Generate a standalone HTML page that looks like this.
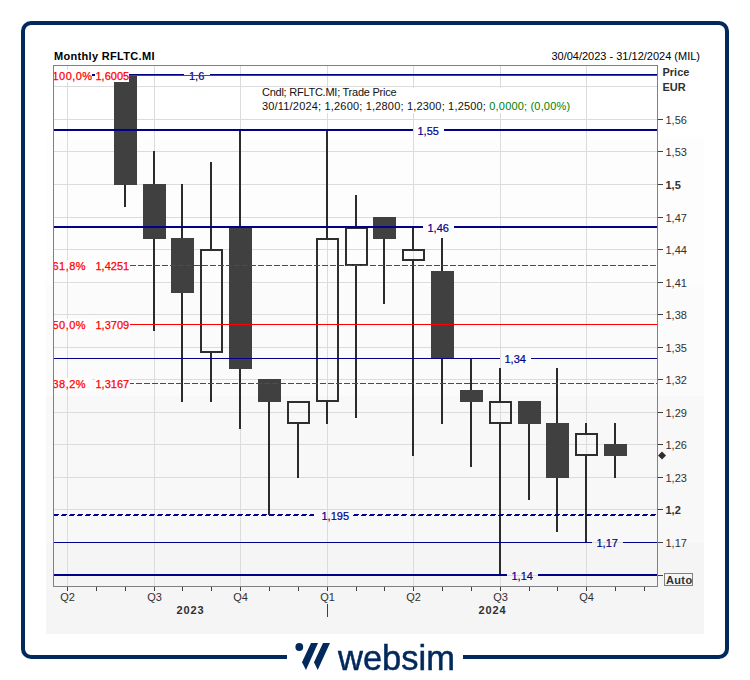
<!DOCTYPE html>
<html><head><meta charset="utf-8"><title>Monthly RFLTC.MI</title>
<style>
html,body{margin:0;padding:0;background:#fff;}
body{width:750px;height:680px;position:relative;overflow:hidden;font-family:"Liberation Sans",sans-serif;}
#frame{position:absolute;left:21px;top:21px;width:708px;height:638px;box-sizing:border-box;border:4px solid #01295c;border-radius:10px;background:#fff;}
#chartbg{position:absolute;left:46px;top:44px;width:658px;height:590px;background:linear-gradient(to bottom,#ffffff 0,#ffffff 93px,#fdfdfd 93px,#fdfdfd 241px,#fbfbfb 241px,#fbfbfb 352px,#f8f8f8 352px,#f8f8f8 499px,#f5f5f5 499px,#f5f5f5 590px);}
#logomask{position:absolute;left:286.5px;top:640px;width:176.7px;height:40px;background:#fff;}
svg{position:absolute;left:0;top:0;}
text{font-family:"Liberation Sans",sans-serif;font-size:11px;}
.b{font-weight:bold;}
#word{position:absolute;left:338.3px;top:638px;font-size:34.5px;line-height:40px;color:#01295c;letter-spacing:0px;white-space:nowrap;-webkit-text-stroke:0.5px #01295c;will-change:transform;}
</style></head><body>
<div id="frame"></div>
<div id="chartbg"></div>
<div id="logomask"></div>
<svg width="750" height="680" viewBox="0 0 750 680">
<defs><clipPath id="pc"><rect x="54" y="66" width="603" height="520"/></clipPath></defs>
<g shape-rendering="crispEdges">
<rect x="54" y="575" width="603" height="1" fill="#dcdcdc"/>
<rect x="54" y="542" width="603" height="1" fill="#dcdcdc"/>
<rect x="54" y="509" width="603" height="1" fill="#dcdcdc"/>
<rect x="54" y="477" width="603" height="1" fill="#dcdcdc"/>
<rect x="54" y="444" width="603" height="1" fill="#dcdcdc"/>
<rect x="54" y="412" width="603" height="1" fill="#dcdcdc"/>
<rect x="54" y="379" width="603" height="1" fill="#dcdcdc"/>
<rect x="54" y="347" width="603" height="1" fill="#dcdcdc"/>
<rect x="54" y="314" width="603" height="1" fill="#dcdcdc"/>
<rect x="54" y="282" width="603" height="1" fill="#dcdcdc"/>
<rect x="54" y="249" width="603" height="1" fill="#dcdcdc"/>
<rect x="54" y="217" width="603" height="1" fill="#dcdcdc"/>
<rect x="54" y="184" width="603" height="1" fill="#dcdcdc"/>
<rect x="54" y="151" width="603" height="1" fill="#dcdcdc"/>
<rect x="54" y="119" width="603" height="1" fill="#dcdcdc"/>
<rect x="54" y="86" width="603" height="1" fill="#dcdcdc"/>
<rect x="67" y="66" width="1" height="520" fill="#dcdcdc"/>
<rect x="154" y="66" width="1" height="520" fill="#dcdcdc"/>
<rect x="240" y="66" width="1" height="520" fill="#dcdcdc"/>
<rect x="327" y="66" width="1" height="520" fill="#dcdcdc"/>
<rect x="413" y="66" width="1" height="520" fill="#dcdcdc"/>
<rect x="500" y="66" width="1" height="520" fill="#dcdcdc"/>
<rect x="586" y="66" width="1" height="520" fill="#dcdcdc"/>
<rect x="124" y="185" width="2" height="22" fill="#2b2b2b"/>
<rect x="114" y="75" width="23" height="110" fill="#404040"/>
<rect x="153" y="151" width="2" height="33" fill="#2b2b2b"/>
<rect x="153" y="239" width="2" height="92" fill="#2b2b2b"/>
<rect x="143" y="184" width="23" height="55" fill="#404040"/>
<rect x="181" y="184" width="2" height="54" fill="#2b2b2b"/>
<rect x="181" y="293" width="2" height="109" fill="#2b2b2b"/>
<rect x="171" y="238" width="23" height="55" fill="#404040"/>
<rect x="210" y="162" width="2" height="87" fill="#2b2b2b"/>
<rect x="210" y="353" width="2" height="49" fill="#2b2b2b"/>
<rect x="201" y="250" width="21" height="102" fill="none" stroke="#2e2e2e" stroke-width="2"/>
<rect x="239" y="130" width="2" height="97" fill="#2b2b2b"/>
<rect x="239" y="369" width="2" height="60" fill="#2b2b2b"/>
<rect x="229" y="227" width="23" height="142" fill="#404040"/>
<rect x="268" y="402" width="2" height="113" fill="#2b2b2b"/>
<rect x="258" y="379" width="23" height="23" fill="#404040"/>
<rect x="297" y="424" width="2" height="54" fill="#2b2b2b"/>
<rect x="288" y="402" width="21" height="21" fill="none" stroke="#2e2e2e" stroke-width="2"/>
<rect x="326" y="130" width="2" height="108" fill="#2b2b2b"/>
<rect x="326" y="402" width="2" height="22" fill="#2b2b2b"/>
<rect x="317" y="239" width="21" height="162" fill="none" stroke="#2e2e2e" stroke-width="2"/>
<rect x="355" y="195" width="2" height="32" fill="#2b2b2b"/>
<rect x="355" y="266" width="2" height="152" fill="#2b2b2b"/>
<rect x="346" y="228" width="21" height="37" fill="none" stroke="#2e2e2e" stroke-width="2"/>
<rect x="383" y="239" width="2" height="65" fill="#2b2b2b"/>
<rect x="373" y="217" width="23" height="22" fill="#404040"/>
<rect x="412" y="227" width="2" height="22" fill="#2b2b2b"/>
<rect x="412" y="261" width="2" height="195" fill="#2b2b2b"/>
<rect x="403" y="250" width="21" height="10" fill="none" stroke="#2e2e2e" stroke-width="2"/>
<rect x="441" y="238" width="2" height="33" fill="#2b2b2b"/>
<rect x="441" y="358" width="2" height="66" fill="#2b2b2b"/>
<rect x="431" y="271" width="23" height="87" fill="#404040"/>
<rect x="470" y="358" width="2" height="32" fill="#2b2b2b"/>
<rect x="470" y="402" width="2" height="65" fill="#2b2b2b"/>
<rect x="460" y="390" width="23" height="12" fill="#404040"/>
<rect x="499" y="368" width="2" height="33" fill="#2b2b2b"/>
<rect x="499" y="424" width="2" height="151" fill="#2b2b2b"/>
<rect x="490" y="402" width="21" height="21" fill="none" stroke="#2e2e2e" stroke-width="2"/>
<rect x="528" y="424" width="2" height="76" fill="#2b2b2b"/>
<rect x="518" y="401" width="23" height="23" fill="#404040"/>
<rect x="556" y="368" width="2" height="55" fill="#2b2b2b"/>
<rect x="556" y="478" width="2" height="54" fill="#2b2b2b"/>
<rect x="546" y="423" width="23" height="55" fill="#404040"/>
<rect x="585" y="423" width="2" height="10" fill="#2b2b2b"/>
<rect x="585" y="456" width="2" height="86" fill="#2b2b2b"/>
<rect x="576" y="434" width="21" height="21" fill="none" stroke="#2e2e2e" stroke-width="2"/>
<rect x="614" y="423" width="2" height="21" fill="#2b2b2b"/>
<rect x="614" y="456" width="2" height="22" fill="#2b2b2b"/>
<rect x="604" y="444" width="23" height="12" fill="#404040"/>
<rect x="54" y="74" width="130" height="2" fill="#00008b"/>
<rect x="210" y="74" width="447" height="2" fill="#00008b"/>
<rect x="54" y="129" width="359" height="2" fill="#00008b"/>
<rect x="444" y="129" width="213" height="2" fill="#00008b"/>
<rect x="54" y="226" width="369" height="2" fill="#00008b"/>
<rect x="454" y="226" width="203" height="2" fill="#00008b"/>
<rect x="54" y="358" width="446" height="1" fill="#00008b"/>
<rect x="531" y="358" width="126" height="1" fill="#00008b"/>
<rect x="54" y="514" width="5" height="1" fill="#00008b"/>
<rect x="54" y="515" width="4" height="1" fill="#00008b"/>
<rect x="62" y="514" width="5" height="1" fill="#00008b"/>
<rect x="61" y="515" width="5" height="1" fill="#00008b"/>
<rect x="70" y="514" width="5" height="1" fill="#00008b"/>
<rect x="69" y="515" width="5" height="1" fill="#00008b"/>
<rect x="78" y="514" width="5" height="1" fill="#00008b"/>
<rect x="77" y="515" width="5" height="1" fill="#00008b"/>
<rect x="86" y="514" width="5" height="1" fill="#00008b"/>
<rect x="85" y="515" width="5" height="1" fill="#00008b"/>
<rect x="94" y="514" width="5" height="1" fill="#00008b"/>
<rect x="93" y="515" width="5" height="1" fill="#00008b"/>
<rect x="102" y="514" width="5" height="1" fill="#00008b"/>
<rect x="101" y="515" width="5" height="1" fill="#00008b"/>
<rect x="110" y="514" width="5" height="1" fill="#00008b"/>
<rect x="109" y="515" width="5" height="1" fill="#00008b"/>
<rect x="118" y="514" width="5" height="1" fill="#00008b"/>
<rect x="117" y="515" width="5" height="1" fill="#00008b"/>
<rect x="126" y="514" width="5" height="1" fill="#00008b"/>
<rect x="125" y="515" width="5" height="1" fill="#00008b"/>
<rect x="134" y="514" width="5" height="1" fill="#00008b"/>
<rect x="133" y="515" width="5" height="1" fill="#00008b"/>
<rect x="142" y="514" width="5" height="1" fill="#00008b"/>
<rect x="141" y="515" width="5" height="1" fill="#00008b"/>
<rect x="150" y="514" width="5" height="1" fill="#00008b"/>
<rect x="149" y="515" width="5" height="1" fill="#00008b"/>
<rect x="158" y="514" width="5" height="1" fill="#00008b"/>
<rect x="157" y="515" width="5" height="1" fill="#00008b"/>
<rect x="166" y="514" width="5" height="1" fill="#00008b"/>
<rect x="165" y="515" width="5" height="1" fill="#00008b"/>
<rect x="174" y="514" width="5" height="1" fill="#00008b"/>
<rect x="173" y="515" width="5" height="1" fill="#00008b"/>
<rect x="182" y="514" width="5" height="1" fill="#00008b"/>
<rect x="181" y="515" width="5" height="1" fill="#00008b"/>
<rect x="190" y="514" width="5" height="1" fill="#00008b"/>
<rect x="189" y="515" width="5" height="1" fill="#00008b"/>
<rect x="198" y="514" width="5" height="1" fill="#00008b"/>
<rect x="197" y="515" width="5" height="1" fill="#00008b"/>
<rect x="206" y="514" width="5" height="1" fill="#00008b"/>
<rect x="205" y="515" width="5" height="1" fill="#00008b"/>
<rect x="214" y="514" width="5" height="1" fill="#00008b"/>
<rect x="213" y="515" width="5" height="1" fill="#00008b"/>
<rect x="222" y="514" width="5" height="1" fill="#00008b"/>
<rect x="221" y="515" width="5" height="1" fill="#00008b"/>
<rect x="230" y="514" width="5" height="1" fill="#00008b"/>
<rect x="229" y="515" width="5" height="1" fill="#00008b"/>
<rect x="238" y="514" width="5" height="1" fill="#00008b"/>
<rect x="237" y="515" width="5" height="1" fill="#00008b"/>
<rect x="246" y="514" width="5" height="1" fill="#00008b"/>
<rect x="245" y="515" width="5" height="1" fill="#00008b"/>
<rect x="254" y="514" width="5" height="1" fill="#00008b"/>
<rect x="253" y="515" width="5" height="1" fill="#00008b"/>
<rect x="262" y="514" width="5" height="1" fill="#00008b"/>
<rect x="261" y="515" width="5" height="1" fill="#00008b"/>
<rect x="270" y="514" width="5" height="1" fill="#00008b"/>
<rect x="269" y="515" width="5" height="1" fill="#00008b"/>
<rect x="278" y="514" width="5" height="1" fill="#00008b"/>
<rect x="277" y="515" width="5" height="1" fill="#00008b"/>
<rect x="286" y="514" width="5" height="1" fill="#00008b"/>
<rect x="285" y="515" width="5" height="1" fill="#00008b"/>
<rect x="294" y="514" width="5" height="1" fill="#00008b"/>
<rect x="293" y="515" width="5" height="1" fill="#00008b"/>
<rect x="302" y="514" width="5" height="1" fill="#00008b"/>
<rect x="301" y="515" width="5" height="1" fill="#00008b"/>
<rect x="310" y="514" width="4" height="1" fill="#00008b"/>
<rect x="309" y="515" width="5" height="1" fill="#00008b"/>
<rect x="354" y="514" width="5" height="1" fill="#00008b"/>
<rect x="353" y="515" width="5" height="1" fill="#00008b"/>
<rect x="362" y="514" width="5" height="1" fill="#00008b"/>
<rect x="361" y="515" width="5" height="1" fill="#00008b"/>
<rect x="370" y="514" width="5" height="1" fill="#00008b"/>
<rect x="369" y="515" width="5" height="1" fill="#00008b"/>
<rect x="378" y="514" width="5" height="1" fill="#00008b"/>
<rect x="377" y="515" width="5" height="1" fill="#00008b"/>
<rect x="386" y="514" width="5" height="1" fill="#00008b"/>
<rect x="385" y="515" width="5" height="1" fill="#00008b"/>
<rect x="394" y="514" width="5" height="1" fill="#00008b"/>
<rect x="393" y="515" width="5" height="1" fill="#00008b"/>
<rect x="402" y="514" width="5" height="1" fill="#00008b"/>
<rect x="401" y="515" width="5" height="1" fill="#00008b"/>
<rect x="411" y="514" width="5" height="1" fill="#00008b"/>
<rect x="410" y="515" width="5" height="1" fill="#00008b"/>
<rect x="419" y="514" width="5" height="1" fill="#00008b"/>
<rect x="418" y="515" width="5" height="1" fill="#00008b"/>
<rect x="427" y="514" width="5" height="1" fill="#00008b"/>
<rect x="426" y="515" width="5" height="1" fill="#00008b"/>
<rect x="435" y="514" width="5" height="1" fill="#00008b"/>
<rect x="434" y="515" width="5" height="1" fill="#00008b"/>
<rect x="443" y="514" width="5" height="1" fill="#00008b"/>
<rect x="442" y="515" width="5" height="1" fill="#00008b"/>
<rect x="451" y="514" width="5" height="1" fill="#00008b"/>
<rect x="450" y="515" width="5" height="1" fill="#00008b"/>
<rect x="459" y="514" width="5" height="1" fill="#00008b"/>
<rect x="458" y="515" width="5" height="1" fill="#00008b"/>
<rect x="467" y="514" width="5" height="1" fill="#00008b"/>
<rect x="466" y="515" width="5" height="1" fill="#00008b"/>
<rect x="475" y="514" width="5" height="1" fill="#00008b"/>
<rect x="474" y="515" width="5" height="1" fill="#00008b"/>
<rect x="483" y="514" width="5" height="1" fill="#00008b"/>
<rect x="482" y="515" width="5" height="1" fill="#00008b"/>
<rect x="491" y="514" width="5" height="1" fill="#00008b"/>
<rect x="490" y="515" width="5" height="1" fill="#00008b"/>
<rect x="499" y="514" width="5" height="1" fill="#00008b"/>
<rect x="498" y="515" width="5" height="1" fill="#00008b"/>
<rect x="507" y="514" width="5" height="1" fill="#00008b"/>
<rect x="506" y="515" width="5" height="1" fill="#00008b"/>
<rect x="515" y="514" width="5" height="1" fill="#00008b"/>
<rect x="514" y="515" width="5" height="1" fill="#00008b"/>
<rect x="523" y="514" width="5" height="1" fill="#00008b"/>
<rect x="522" y="515" width="5" height="1" fill="#00008b"/>
<rect x="531" y="514" width="5" height="1" fill="#00008b"/>
<rect x="530" y="515" width="5" height="1" fill="#00008b"/>
<rect x="539" y="514" width="5" height="1" fill="#00008b"/>
<rect x="538" y="515" width="5" height="1" fill="#00008b"/>
<rect x="547" y="514" width="5" height="1" fill="#00008b"/>
<rect x="546" y="515" width="5" height="1" fill="#00008b"/>
<rect x="555" y="514" width="5" height="1" fill="#00008b"/>
<rect x="554" y="515" width="5" height="1" fill="#00008b"/>
<rect x="563" y="514" width="5" height="1" fill="#00008b"/>
<rect x="562" y="515" width="5" height="1" fill="#00008b"/>
<rect x="571" y="514" width="5" height="1" fill="#00008b"/>
<rect x="570" y="515" width="5" height="1" fill="#00008b"/>
<rect x="579" y="514" width="5" height="1" fill="#00008b"/>
<rect x="578" y="515" width="5" height="1" fill="#00008b"/>
<rect x="587" y="514" width="5" height="1" fill="#00008b"/>
<rect x="586" y="515" width="5" height="1" fill="#00008b"/>
<rect x="595" y="514" width="5" height="1" fill="#00008b"/>
<rect x="594" y="515" width="5" height="1" fill="#00008b"/>
<rect x="603" y="514" width="5" height="1" fill="#00008b"/>
<rect x="602" y="515" width="5" height="1" fill="#00008b"/>
<rect x="611" y="514" width="5" height="1" fill="#00008b"/>
<rect x="610" y="515" width="5" height="1" fill="#00008b"/>
<rect x="619" y="514" width="5" height="1" fill="#00008b"/>
<rect x="618" y="515" width="5" height="1" fill="#00008b"/>
<rect x="627" y="514" width="5" height="1" fill="#00008b"/>
<rect x="626" y="515" width="5" height="1" fill="#00008b"/>
<rect x="635" y="514" width="5" height="1" fill="#00008b"/>
<rect x="634" y="515" width="5" height="1" fill="#00008b"/>
<rect x="643" y="514" width="5" height="1" fill="#00008b"/>
<rect x="642" y="515" width="5" height="1" fill="#00008b"/>
<rect x="651" y="514" width="5" height="1" fill="#00008b"/>
<rect x="650" y="515" width="5" height="1" fill="#00008b"/>
<rect x="54" y="542" width="538" height="1" fill="#00008b"/>
<rect x="623" y="542" width="34" height="1" fill="#00008b"/>
<rect x="54" y="574" width="453" height="2" fill="#00008b"/>
<rect x="538" y="574" width="119" height="2" fill="#00008b"/>
<rect x="128" y="75" width="529" height="1" fill="#ff0000"/>
<rect x="130" y="324" width="527" height="1" fill="#ff0000"/>
<rect x="130" y="265" width="6" height="1" fill="#ff0000"/>
<rect x="138" y="265" width="6" height="1" fill="#ff0000"/>
<rect x="146" y="265" width="6" height="1" fill="#ff0000"/>
<rect x="154" y="265" width="6" height="1" fill="#ff0000"/>
<rect x="162" y="265" width="6" height="1" fill="#ff0000"/>
<rect x="170" y="265" width="6" height="1" fill="#ff0000"/>
<rect x="178" y="265" width="6" height="1" fill="#ff0000"/>
<rect x="186" y="265" width="6" height="1" fill="#ff0000"/>
<rect x="194" y="265" width="6" height="1" fill="#ff0000"/>
<rect x="202" y="265" width="6" height="1" fill="#ff0000"/>
<rect x="210" y="265" width="6" height="1" fill="#ff0000"/>
<rect x="218" y="265" width="6" height="1" fill="#ff0000"/>
<rect x="226" y="265" width="6" height="1" fill="#ff0000"/>
<rect x="234" y="265" width="6" height="1" fill="#ff0000"/>
<rect x="242" y="265" width="6" height="1" fill="#ff0000"/>
<rect x="250" y="265" width="6" height="1" fill="#ff0000"/>
<rect x="258" y="265" width="6" height="1" fill="#ff0000"/>
<rect x="266" y="265" width="6" height="1" fill="#ff0000"/>
<rect x="274" y="265" width="6" height="1" fill="#ff0000"/>
<rect x="282" y="265" width="6" height="1" fill="#ff0000"/>
<rect x="290" y="265" width="6" height="1" fill="#ff0000"/>
<rect x="298" y="265" width="6" height="1" fill="#ff0000"/>
<rect x="306" y="265" width="6" height="1" fill="#ff0000"/>
<rect x="314" y="265" width="6" height="1" fill="#ff0000"/>
<rect x="322" y="265" width="6" height="1" fill="#ff0000"/>
<rect x="330" y="265" width="6" height="1" fill="#ff0000"/>
<rect x="338" y="265" width="6" height="1" fill="#ff0000"/>
<rect x="346" y="265" width="6" height="1" fill="#ff0000"/>
<rect x="354" y="265" width="6" height="1" fill="#ff0000"/>
<rect x="362" y="265" width="6" height="1" fill="#ff0000"/>
<rect x="370" y="265" width="6" height="1" fill="#ff0000"/>
<rect x="378" y="265" width="6" height="1" fill="#ff0000"/>
<rect x="386" y="265" width="6" height="1" fill="#ff0000"/>
<rect x="394" y="265" width="6" height="1" fill="#ff0000"/>
<rect x="402" y="265" width="6" height="1" fill="#ff0000"/>
<rect x="410" y="265" width="6" height="1" fill="#ff0000"/>
<rect x="418" y="265" width="6" height="1" fill="#ff0000"/>
<rect x="426" y="265" width="6" height="1" fill="#ff0000"/>
<rect x="434" y="265" width="6" height="1" fill="#ff0000"/>
<rect x="442" y="265" width="6" height="1" fill="#ff0000"/>
<rect x="450" y="265" width="6" height="1" fill="#ff0000"/>
<rect x="458" y="265" width="6" height="1" fill="#ff0000"/>
<rect x="466" y="265" width="6" height="1" fill="#ff0000"/>
<rect x="474" y="265" width="6" height="1" fill="#ff0000"/>
<rect x="482" y="265" width="6" height="1" fill="#ff0000"/>
<rect x="490" y="265" width="6" height="1" fill="#ff0000"/>
<rect x="498" y="265" width="6" height="1" fill="#ff0000"/>
<rect x="506" y="265" width="6" height="1" fill="#ff0000"/>
<rect x="514" y="265" width="6" height="1" fill="#ff0000"/>
<rect x="522" y="265" width="6" height="1" fill="#ff0000"/>
<rect x="530" y="265" width="6" height="1" fill="#ff0000"/>
<rect x="538" y="265" width="6" height="1" fill="#ff0000"/>
<rect x="546" y="265" width="6" height="1" fill="#ff0000"/>
<rect x="554" y="265" width="6" height="1" fill="#ff0000"/>
<rect x="562" y="265" width="6" height="1" fill="#ff0000"/>
<rect x="570" y="265" width="6" height="1" fill="#ff0000"/>
<rect x="578" y="265" width="6" height="1" fill="#ff0000"/>
<rect x="586" y="265" width="6" height="1" fill="#ff0000"/>
<rect x="594" y="265" width="6" height="1" fill="#ff0000"/>
<rect x="602" y="265" width="6" height="1" fill="#ff0000"/>
<rect x="610" y="265" width="6" height="1" fill="#ff0000"/>
<rect x="618" y="265" width="6" height="1" fill="#ff0000"/>
<rect x="626" y="265" width="6" height="1" fill="#ff0000"/>
<rect x="634" y="265" width="6" height="1" fill="#ff0000"/>
<rect x="642" y="265" width="6" height="1" fill="#ff0000"/>
<rect x="650" y="265" width="6" height="1" fill="#ff0000"/>
<rect x="130" y="383" width="4" height="1" fill="#ff0000"/>
<rect x="136" y="383" width="6" height="1" fill="#ff0000"/>
<rect x="144" y="383" width="6" height="1" fill="#ff0000"/>
<rect x="152" y="383" width="6" height="1" fill="#ff0000"/>
<rect x="160" y="383" width="6" height="1" fill="#ff0000"/>
<rect x="168" y="383" width="6" height="1" fill="#ff0000"/>
<rect x="176" y="383" width="6" height="1" fill="#ff0000"/>
<rect x="184" y="383" width="6" height="1" fill="#ff0000"/>
<rect x="192" y="383" width="6" height="1" fill="#ff0000"/>
<rect x="200" y="383" width="6" height="1" fill="#ff0000"/>
<rect x="208" y="383" width="6" height="1" fill="#ff0000"/>
<rect x="216" y="383" width="6" height="1" fill="#ff0000"/>
<rect x="224" y="383" width="6" height="1" fill="#ff0000"/>
<rect x="232" y="383" width="6" height="1" fill="#ff0000"/>
<rect x="240" y="383" width="6" height="1" fill="#ff0000"/>
<rect x="248" y="383" width="6" height="1" fill="#ff0000"/>
<rect x="256" y="383" width="6" height="1" fill="#ff0000"/>
<rect x="264" y="383" width="6" height="1" fill="#ff0000"/>
<rect x="272" y="383" width="6" height="1" fill="#ff0000"/>
<rect x="280" y="383" width="6" height="1" fill="#ff0000"/>
<rect x="288" y="383" width="6" height="1" fill="#ff0000"/>
<rect x="296" y="383" width="6" height="1" fill="#ff0000"/>
<rect x="304" y="383" width="6" height="1" fill="#ff0000"/>
<rect x="312" y="383" width="6" height="1" fill="#ff0000"/>
<rect x="320" y="383" width="6" height="1" fill="#ff0000"/>
<rect x="328" y="383" width="6" height="1" fill="#ff0000"/>
<rect x="336" y="383" width="6" height="1" fill="#ff0000"/>
<rect x="344" y="383" width="6" height="1" fill="#ff0000"/>
<rect x="352" y="383" width="6" height="1" fill="#ff0000"/>
<rect x="360" y="383" width="6" height="1" fill="#ff0000"/>
<rect x="368" y="383" width="6" height="1" fill="#ff0000"/>
<rect x="376" y="383" width="6" height="1" fill="#ff0000"/>
<rect x="384" y="383" width="6" height="1" fill="#ff0000"/>
<rect x="392" y="383" width="6" height="1" fill="#ff0000"/>
<rect x="400" y="383" width="6" height="1" fill="#ff0000"/>
<rect x="408" y="383" width="6" height="1" fill="#ff0000"/>
<rect x="416" y="383" width="6" height="1" fill="#ff0000"/>
<rect x="424" y="383" width="6" height="1" fill="#ff0000"/>
<rect x="432" y="383" width="6" height="1" fill="#ff0000"/>
<rect x="440" y="383" width="6" height="1" fill="#ff0000"/>
<rect x="448" y="383" width="6" height="1" fill="#ff0000"/>
<rect x="456" y="383" width="6" height="1" fill="#ff0000"/>
<rect x="464" y="383" width="6" height="1" fill="#ff0000"/>
<rect x="472" y="383" width="6" height="1" fill="#ff0000"/>
<rect x="480" y="383" width="6" height="1" fill="#ff0000"/>
<rect x="488" y="383" width="6" height="1" fill="#ff0000"/>
<rect x="496" y="383" width="6" height="1" fill="#ff0000"/>
<rect x="504" y="383" width="6" height="1" fill="#ff0000"/>
<rect x="512" y="383" width="6" height="1" fill="#ff0000"/>
<rect x="520" y="383" width="6" height="1" fill="#ff0000"/>
<rect x="528" y="383" width="6" height="1" fill="#ff0000"/>
<rect x="536" y="383" width="6" height="1" fill="#ff0000"/>
<rect x="544" y="383" width="6" height="1" fill="#ff0000"/>
<rect x="552" y="383" width="6" height="1" fill="#ff0000"/>
<rect x="560" y="383" width="6" height="1" fill="#ff0000"/>
<rect x="568" y="383" width="6" height="1" fill="#ff0000"/>
<rect x="576" y="383" width="6" height="1" fill="#ff0000"/>
<rect x="584" y="383" width="6" height="1" fill="#ff0000"/>
<rect x="592" y="383" width="6" height="1" fill="#ff0000"/>
<rect x="600" y="383" width="6" height="1" fill="#ff0000"/>
<rect x="608" y="383" width="6" height="1" fill="#ff0000"/>
<rect x="616" y="383" width="6" height="1" fill="#ff0000"/>
<rect x="624" y="383" width="6" height="1" fill="#ff0000"/>
<rect x="632" y="383" width="6" height="1" fill="#ff0000"/>
<rect x="640" y="383" width="6" height="1" fill="#ff0000"/>
<rect x="648" y="383" width="6" height="1" fill="#ff0000"/>
<rect x="656" y="383" width="1" height="1" fill="#ff0000"/>
</g>
<rect x="53.5" y="65.5" width="604" height="521" fill="none" stroke="#808080" stroke-width="1" shape-rendering="crispEdges"/>
<g shape-rendering="crispEdges">
<rect x="658" y="575" width="5" height="1" fill="#404040"/>
<rect x="658" y="542" width="5" height="1" fill="#404040"/>
<rect x="658" y="509" width="5" height="1" fill="#404040"/>
<rect x="658" y="477" width="5" height="1" fill="#404040"/>
<rect x="658" y="444" width="5" height="1" fill="#404040"/>
<rect x="658" y="412" width="5" height="1" fill="#404040"/>
<rect x="658" y="379" width="5" height="1" fill="#404040"/>
<rect x="658" y="347" width="5" height="1" fill="#404040"/>
<rect x="658" y="314" width="5" height="1" fill="#404040"/>
<rect x="658" y="282" width="5" height="1" fill="#404040"/>
<rect x="658" y="249" width="5" height="1" fill="#404040"/>
<rect x="658" y="217" width="5" height="1" fill="#404040"/>
<rect x="658" y="184" width="5" height="1" fill="#404040"/>
<rect x="658" y="151" width="5" height="1" fill="#404040"/>
<rect x="658" y="119" width="5" height="1" fill="#404040"/>
<rect x="67" y="587" width="1" height="4" fill="#404040"/>
<rect x="96" y="587" width="1" height="4" fill="#404040"/>
<rect x="125" y="587" width="1" height="4" fill="#404040"/>
<rect x="154" y="587" width="1" height="4" fill="#404040"/>
<rect x="182" y="587" width="1" height="4" fill="#404040"/>
<rect x="211" y="587" width="1" height="4" fill="#404040"/>
<rect x="240" y="587" width="1" height="4" fill="#404040"/>
<rect x="269" y="587" width="1" height="4" fill="#404040"/>
<rect x="298" y="587" width="1" height="4" fill="#404040"/>
<rect x="327" y="587" width="1" height="4" fill="#404040"/>
<rect x="356" y="587" width="1" height="4" fill="#404040"/>
<rect x="384" y="587" width="1" height="4" fill="#404040"/>
<rect x="413" y="587" width="1" height="4" fill="#404040"/>
<rect x="442" y="587" width="1" height="4" fill="#404040"/>
<rect x="471" y="587" width="1" height="4" fill="#404040"/>
<rect x="500" y="587" width="1" height="4" fill="#404040"/>
<rect x="529" y="587" width="1" height="4" fill="#404040"/>
<rect x="557" y="587" width="1" height="4" fill="#404040"/>
<rect x="586" y="587" width="1" height="4" fill="#404040"/>
<rect x="615" y="587" width="1" height="4" fill="#404040"/>
<rect x="644" y="587" width="1" height="4" fill="#404040"/>
<rect x="327" y="604" width="1" height="13" fill="#404040"/>
</g>
<rect x="54" y="70" width="38" height="12" fill="#fff"/>
<rect x="95" y="70" width="34" height="12" fill="#fff"/>
<text x="52.5" y="80" fill="#ff0000" stroke="#ff0000" stroke-width="0.25" clip-path="url(#pc)" style="letter-spacing:0.45px">100,0%</text>
<text x="95.5" y="80" fill="#ff0000" stroke="#ff0000" stroke-width="0.25">1,6005</text>
<rect x="54" y="260" width="38" height="12" fill="#fff"/>
<rect x="95" y="260" width="34" height="12" fill="#fff"/>
<text x="52.5" y="270" fill="#ff0000" stroke="#ff0000" stroke-width="0.25" clip-path="url(#pc)" style="letter-spacing:0.45px">61,8%</text>
<text x="95.5" y="270" fill="#ff0000" stroke="#ff0000" stroke-width="0.25">1,4251</text>
<rect x="54" y="319" width="38" height="12" fill="#fff"/>
<rect x="95" y="319" width="34" height="12" fill="#fff"/>
<text x="52.5" y="329" fill="#ff0000" stroke="#ff0000" stroke-width="0.25" clip-path="url(#pc)" style="letter-spacing:0.45px">50,0%</text>
<text x="95.5" y="329" fill="#ff0000" stroke="#ff0000" stroke-width="0.25">1,3709</text>
<rect x="54" y="378" width="38" height="12" fill="#fff"/>
<rect x="95" y="378" width="34" height="12" fill="#fff"/>
<text x="52.5" y="388" fill="#ff0000" stroke="#ff0000" stroke-width="0.25" clip-path="url(#pc)" style="letter-spacing:0.45px">38,2%</text>
<text x="95.5" y="388" fill="#ff0000" stroke="#ff0000" stroke-width="0.25">1,3167</text>
<text x="189" y="79.5" fill="#00008b" stroke="#00008b" stroke-width="0.2">1,6</text>
<text x="417.5" y="135" fill="#00008b" stroke="#00008b" stroke-width="0.2">1,55</text>
<text x="427.5" y="232" fill="#00008b" stroke="#00008b" stroke-width="0.2">1,46</text>
<text x="504.5" y="363" fill="#00008b" stroke="#00008b" stroke-width="0.2">1,34</text>
<text x="321.5" y="520" fill="#00008b" stroke="#00008b" stroke-width="0.2">1,195</text>
<text x="596.5" y="547" fill="#00008b" stroke="#00008b" stroke-width="0.2">1,17</text>
<text x="511.5" y="580" fill="#00008b" stroke="#00008b" stroke-width="0.2">1,14</text>
<rect x="184" y="75" width="26" height="1" fill="#ff0000" shape-rendering="crispEdges"/>
<text x="665.5" y="547" fill="#303030">1,17</text>
<text x="665.5" y="514" fill="#303030" class="b">1,2</text>
<text x="665.5" y="482" fill="#303030">1,23</text>
<text x="665.5" y="449" fill="#303030">1,26</text>
<text x="665.5" y="417" fill="#303030">1,29</text>
<text x="665.5" y="384" fill="#303030">1,32</text>
<text x="665.5" y="352" fill="#303030">1,35</text>
<text x="665.5" y="319" fill="#303030">1,38</text>
<text x="665.5" y="287" fill="#303030">1,41</text>
<text x="665.5" y="254" fill="#303030">1,44</text>
<text x="665.5" y="222" fill="#303030">1,47</text>
<text x="665.5" y="189" fill="#303030" class="b">1,5</text>
<text x="665.5" y="156" fill="#303030">1,53</text>
<text x="665.5" y="124" fill="#303030">1,56</text>
<rect x="664.5" y="573.5" width="28" height="12" fill="none" stroke="#808080" shape-rendering="crispEdges"/>
<text x="666" y="583.5" fill="#303030" class="b" style="letter-spacing:0.35px">Auto</text>
<path d="M658 455.5 L662 451.5 L666 455.5 L662 459.5 Z" fill="#2e2e2e"/>
<text x="54" y="60" fill="#000" class="b" style="letter-spacing:0.32px">Monthly RFLTC.MI</text>
<text x="700" y="60" fill="#000" text-anchor="end">30/04/2023 - 31/12/2024 (MIL)</text>
<text x="662.5" y="76" fill="#303030" class="b">Price</text>
<text x="662.5" y="91" fill="#303030" class="b">EUR</text>
<rect x="260" y="88" width="312" height="25" fill="#fff"/>
<text x="262" y="96" fill="#111" style="letter-spacing:-0.25px">Cndl; RFLTC.MI; Trade Price</text>
<text x="262" y="109.5" fill="#111" style="letter-spacing:0.18px">30/11/2024; 1,2600; 1,2800; 1,2300; 1,2500; <tspan fill="#008000">0,0000; (0,00%)</tspan></text>
<text x="67.5" y="601" fill="#303030" text-anchor="middle">Q2</text>
<text x="154.5" y="601" fill="#303030" text-anchor="middle">Q3</text>
<text x="240.5" y="601" fill="#303030" text-anchor="middle">Q4</text>
<text x="327.5" y="601" fill="#303030" text-anchor="middle">Q1</text>
<text x="413.5" y="601" fill="#303030" text-anchor="middle">Q2</text>
<text x="500.5" y="601" fill="#303030" text-anchor="middle">Q3</text>
<text x="586.5" y="601" fill="#303030" text-anchor="middle">Q4</text>
<text x="190.5" y="614" fill="#303030" class="b" text-anchor="middle" style="letter-spacing:0.9px">2023</text>
<text x="492.5" y="614" fill="#303030" class="b" text-anchor="middle" style="letter-spacing:0.9px">2024</text>
<g fill="#01295c">
<circle cx="299.3" cy="647" r="3.9"/>
<path d="M311 643 L318 643 L306 670 L302 662.3 Z"/>
<path d="M323 643 L330 643 L317.7 670 L314 662.3 Z"/>
</g>
</svg>
<div id="word">websim</div>
</body></html>
